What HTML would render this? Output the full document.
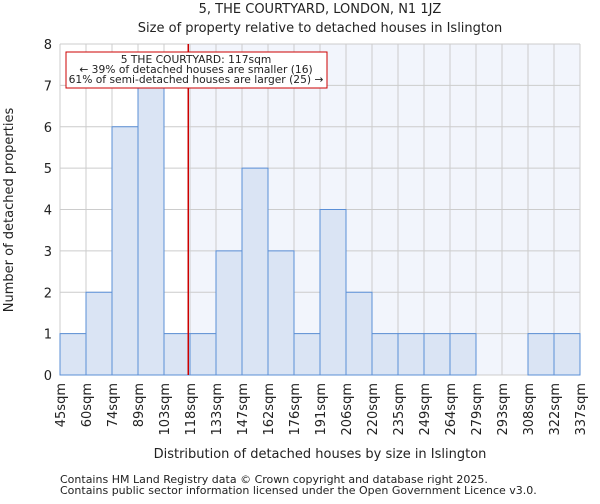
<!DOCTYPE html>
<html><head><meta charset="utf-8"><style>
body{margin:0;background:#fff;font-family:"DejaVu Sans","Liberation Sans",sans-serif;}
svg text{font-family:"DejaVu Sans","Liberation Sans",sans-serif;fill:#222;}
</style></head><body>
<svg id="chart" width="600" height="500" xmlns="http://www.w3.org/2000/svg">
<text x="320" y="13" font-size="13" text-anchor="middle">5, THE COURTYARD, LONDON, N1 1JZ</text>
<text x="320" y="32" font-size="13" text-anchor="middle">Size of property relative to detached houses in Islington</text>
<g id="plot"></g>
<text x="320" y="458" font-size="13" text-anchor="middle">Distribution of detached houses by size in Islington</text>
<text transform="translate(13,210) rotate(-90)" font-size="13" text-anchor="middle">Number of detached properties</text>
<text x="60" y="483" font-size="11" fill="#555">Contains HM Land Registry data © Crown copyright and database right 2025.</text>
<text x="60" y="494" font-size="11" fill="#555">Contains public sector information licensed under the Open Government Licence v3.0.</text>
</svg>
<script>
const binLabels=["45sqm","60sqm","74sqm","89sqm","103sqm","118sqm","133sqm","147sqm","162sqm","176sqm","191sqm","206sqm","220sqm","235sqm","249sqm","264sqm","279sqm","293sqm","308sqm","322sqm","337sqm"];
const counts=[1,2,6,7,1,1,3,5,3,1,4,2,1,1,1,1,0,0,1,1];
const yTicks=[0,1,2,3,4,5,6,7,8];
const propertySize=117;
const binEdges=[45,60,74,89,103,118,133,147,162,176,191,206,220,235,249,264,279,293,308,322,337];
const L=60,R=580,T=44,B=375,yMax=8;
const bw=(R-L)/counts.length;
const x=i=>L+i*bw;
const y=v=>B-(v/yMax)*(B-T);
function sizeX(s){for(let i=0;i<binEdges.length-1;i++){if(s>=binEdges[i]&&s<=binEdges[i+1])return x(i)+(s-binEdges[i])/(binEdges[i+1]-binEdges[i])*bw;}return L;}
const NS="http://www.w3.org/2000/svg";
const g=document.getElementById('plot');
function mk(t,a){const e=document.createElementNS(NS,t);for(const k in a)e.setAttribute(k,a[k]);g.appendChild(e);return e;}
const px=sizeX(propertySize);
let e=mk('rect',{x:px,y:T,width:R-px,height:B-T,fill:'#f2f5fc'});


for(let i=0;i<=counts.length;i++){e=mk('line',{x1:x(i),x2:x(i),y1:T,y2:B,stroke:'#ccc','stroke-width':1});

}
yTicks.forEach(v=>{e=mk('line',{x1:L,x2:R,y1:y(v),y2:y(v),stroke:'#ccc','stroke-width':1});


e=mk('text',{x:L-8,y:y(v)+5,'font-size':13,'text-anchor':'end'});e.textContent=v;

});
counts.forEach((c,i)=>{if(c<=0)return;e=mk('rect',{x:x(i),y:y(c),width:bw,height:B-y(c),fill:'#dae4f4',stroke:'#5b8fd6','stroke-width':1});

});
binLabels.forEach((l,i)=>{e=mk('text',{transform:`translate(${x(i)+5},${B+8}) rotate(-90)`,'font-size':13,'text-anchor':'end'});e.textContent=l;

});
e=mk('line',{x1:px,x2:px,y1:T,y2:B,stroke:'#cc0000','stroke-width':1.5});


e=mk('rect',{x:66,y:52,width:261,height:36,fill:'#fff',stroke:'#cc0000','stroke-width':1});


["5 THE COURTYARD: 117sqm","← 39% of detached houses are smaller (16)","61% of semi-detached houses are larger (25) →"].forEach((t,i)=>{e=mk('text',{x:196,y:63+i*10,'font-size':10.7,'text-anchor':'middle'});e.textContent=t;

});
</script>
</body></html>
